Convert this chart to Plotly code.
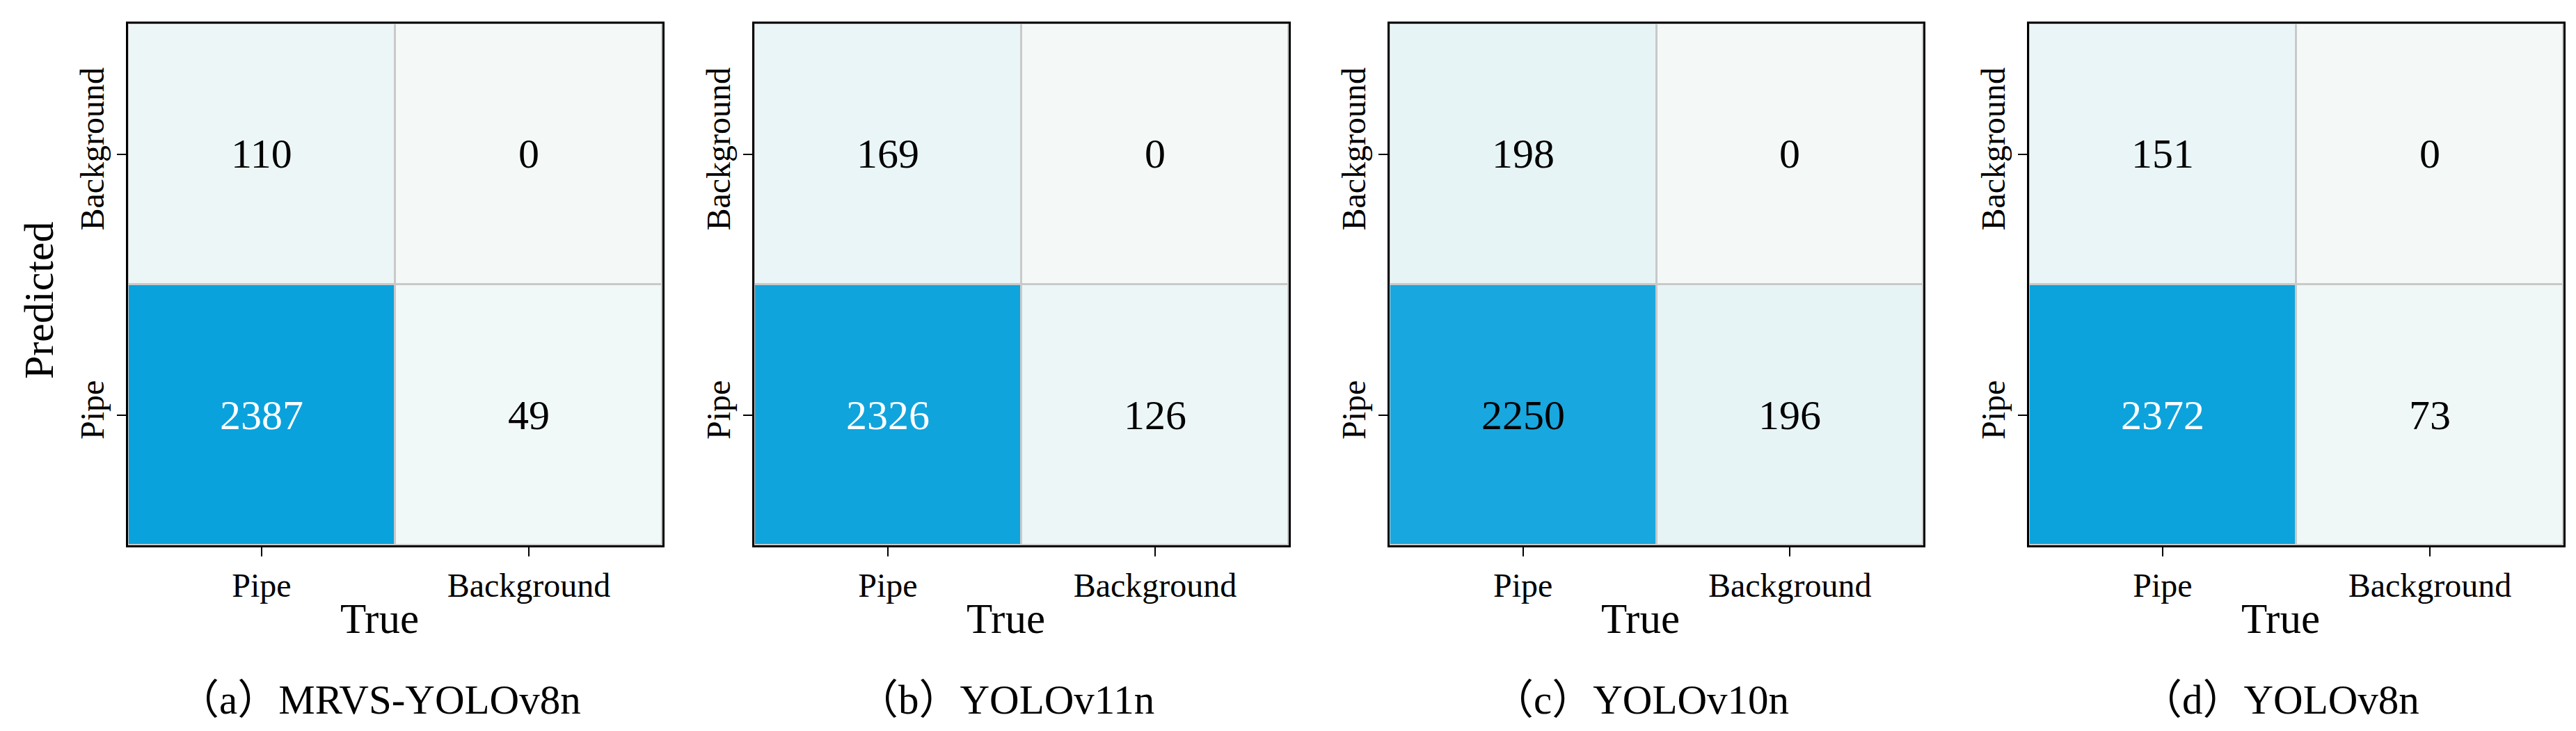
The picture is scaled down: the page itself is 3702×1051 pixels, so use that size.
import plotly.graph_objects as go

# ---------------- data ----------------
true_labels = ["Pipe", "Background"]          # x categories (True)
pred_labels = ["Pipe", "Background"]          # y categories (Predicted), Pipe at bottom
captions = ["（a）MRVS-YOLOv8n", "（b）YOLOv11n", "（c）YOLOv10n", "（d）YOLOv8n"]

# rows follow pred_labels order: [Pipe row], [Background row]
cm_mrvs = [[2387, 49], [110, 0]]
cm_v11 = [[2326, 126], [169, 0]]
cm_v10 = [[2250, 196], [198, 0]]
cm_v8 = [[2372, 73], [151, 0]]
matrices = [cm_mrvs, cm_v11, cm_v10, cm_v8]

# ---------------- style ----------------
W, H = 3702, 1051
FONT = "Liberation Serif, 'Noto Sans CJK SC', serif"
colorscale = [[0.0, "#f4f9f8"], [0.1, "#e4f3f6"], [1.0, "#0aa2dc"]]
zmax = max(max(max(r) for r in m) for m in matrices)

# panel pixel boxes (left, right) and shared top/bottom
panels_px = [(184, 952), (1084, 1852), (1997, 2764), (2916, 3684)]
top_px, bot_px = 34, 784


def hex2rgb(h):
    h = h.lstrip("#")
    return [int(h[i:i + 2], 16) for i in (0, 2, 4)]


def value_color(v):
    t = v / zmax
    for (t0, c0), (t1, c1) in zip(colorscale[:-1], colorscale[1:]):
        if t0 <= t <= t1:
            f = (t - t0) / (t1 - t0) if t1 > t0 else 0
            a, b = hex2rgb(c0), hex2rgb(c1)
            return [a[i] + (b[i] - a[i]) * f for i in range(3)]
    return hex2rgb(colorscale[-1][1])


def text_color(v):
    r, g, b = value_color(v)
    bright = (r * 299 + g * 587 + b * 114) / 1000
    return "white" if bright < 128 else "black"


fig = go.Figure()
layout = dict(
    width=W, height=H, margin=dict(l=0, r=0, t=0, b=0),
    paper_bgcolor="white", plot_bgcolor="#c9c9c9",
    font=dict(family=FONT, color="black"),
    showlegend=False,
)
annotations = []

ydom = [1 - bot_px / H, 1 - top_px / H]
for k, (m, (l, r)) in enumerate(zip(matrices, panels_px)):
    sx = "" if k == 0 else str(k + 1)
    fig.add_trace(go.Heatmap(
        z=m, x=true_labels, y=pred_labels,
        colorscale=colorscale, zmin=0, zmax=zmax, showscale=False,
        xgap=3, ygap=3, hoverinfo="skip",
        xaxis="x" + sx, yaxis="y" + sx,
    ))
    axis_common = dict(
        showline=True, mirror=True, linecolor="black", linewidth=3,
        showgrid=False, zeroline=False, ticks="outside", ticklen=13,
        tickwidth=2, tickcolor="black",
        tickfont=dict(family=FONT, size=48, color="black"),
        type="category", fixedrange=True,
    )
    layout["xaxis" + sx] = dict(axis_common, domain=[l / W, r / W],
                                anchor="y" + sx, range=[-0.5, 1.5])
    layout["yaxis" + sx] = dict(axis_common, domain=ydom, anchor="x" + sx,
                                range=[-0.5, 1.5], tickangle=-90)
    # cell values
    for i, row in enumerate(m):
        for j, v in enumerate(row):
            annotations.append(dict(
                x=true_labels[j], y=pred_labels[i], xref="x" + sx, yref="y" + sx,
                text=str(v), showarrow=False,
                font=dict(family=FONT, size=60, color=text_color(v)),
            ))
    cx = (l + r) / 2 - 23
    annotations.append(dict(
        x=cx / W, y=1 - 889 / H, xref="paper", yref="paper", text="True",
        showarrow=False, xanchor="center", yanchor="middle",
        font=dict(family=FONT, size=61, color="black"),
    ))
    annotations.append(dict(
        x=cx / W, y=1 - 1006 / H, xref="paper", yref="paper", text=captions[k],
        showarrow=False, xanchor="center", yanchor="middle",
        font=dict(family=FONT, size=59, color="black"),
    ))

annotations.append(dict(
    x=56 / W, y=1 - 432 / H, xref="paper", yref="paper", text="Predicted",
    showarrow=False, textangle=-90, xanchor="center", yanchor="middle",
    font=dict(family=FONT, size=60, color="black"),
))
layout["annotations"] = annotations
fig.update_layout(**layout)

fig.write_html(
    "out.html",
    config={"displayModeBar": False},
    post_script="document.body.style.margin='0';document.body.style.overflow='hidden';",
)
